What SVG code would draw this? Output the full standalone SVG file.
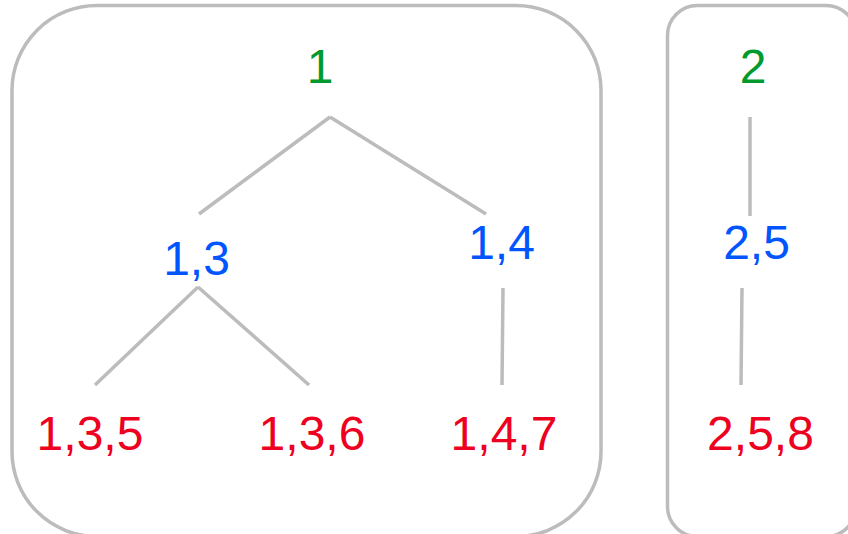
<svg xmlns="http://www.w3.org/2000/svg" width="848" height="534" viewBox="0 0 848 534">
<style>
.box{fill:none;stroke:#bcbcbc;stroke-width:3.5}
.edge{stroke:#bcbcbc;stroke-width:3.5;fill:none}
text{font-family:"Liberation Sans",Arial,sans-serif;font-size:48px;text-anchor:middle}
.g{fill:#009a2e}.b{fill:#0055ff}.r{fill:#ee0020}
</style>
<rect width="848" height="534" fill="#ffffff"/>
<rect id="group1" class="box" x="12" y="5.5" width="589" height="531" rx="85" ry="85"/>
<rect id="group2" class="box" x="667.5" y="5.5" width="188.5" height="531" rx="30" ry="30"/>
<g id="connectors">
<line class="edge" x1="330" y1="117" x2="199" y2="214"/>
<line class="edge" x1="330" y1="117" x2="486" y2="214"/>
<line class="edge" x1="198" y1="287" x2="95" y2="385"/>
<line class="edge" x1="198" y1="287" x2="309" y2="385"/>
<line class="edge" x1="503" y1="288" x2="502" y2="385"/>
<line class="edge" x1="750" y1="117" x2="750" y2="216"/>
<line class="edge" x1="742" y1="288" x2="741" y2="385"/>
</g>
<g id="n1"><text class="g" x="320" y="83">1</text></g>
<g id="n13"><text class="b" x="196.5" y="275">1,3</text></g>
<g id="n14"><text class="b" x="501.5" y="259">1,4</text></g>
<g id="n135"><text class="r" x="90" y="450">1,3,5</text></g>
<g id="n136"><text class="r" x="312" y="450">1,3,6</text></g>
<g id="n147"><text class="r" x="504" y="450">1,4,7</text></g>
<g id="n2"><text class="g" x="753" y="83">2</text></g>
<g id="n25"><text class="b" x="756.5" y="259">2,5</text></g>
<g id="n258"><text class="r" x="760.5" y="450">2,5,8</text></g>
</svg>
